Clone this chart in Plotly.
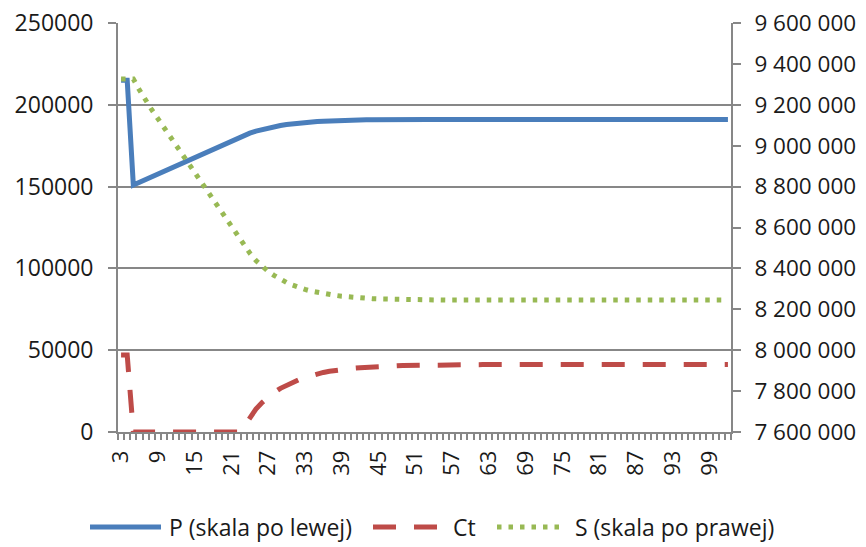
import plotly.graph_objects as go

# Periods on the category axis
periods = list(range(3, 103))
tick_values = [3, 9, 15, 21, 27, 33, 39, 45, 51, 57, 63, 69, 75, 81, 87, 93, 99]
tick_labels = ["3", "9", "15", "21", "27", "33", "39", "45", "51", "57",
               "63", "69", "75", "81", "87", "93", "99"]

# P (left scale)
p_values = [
    215000, 215000, 151000, 152700, 154400, 156100, 157800, 159500, 161200, 162900,
    164600, 166300, 168000, 169700, 171400, 173100, 174800, 176500, 178200, 179900,
    181400, 182700, 183900, 184900, 185800, 186600, 187300, 187900, 188400, 188800,
    189200, 189500, 189800, 190000, 190200, 190300, 190400, 190500, 190600, 190700,
    190800, 190800, 190900, 190900, 190900, 191000, 191000, 191000, 191000, 191000,
    191000, 191000, 191000, 191000, 191000, 191000, 191000, 191000, 191000, 191000,
    191000, 191000, 191000, 191000, 191000, 191000, 191000, 191000, 191000, 191000,
    191000, 191000, 191000, 191000, 191000, 191000, 191000, 191000, 191000, 191000,
    191000, 191000, 191000, 191000, 191000, 191000, 191000, 191000, 191000, 191000,
    191000, 191000, 191000, 191000, 191000, 191000, 191000, 191000, 191000, 191000,
]

# Ct (left scale)
ct_values = [
    47000, 47000, 0, 0, 0, 0, 0, 0, 0, 0,
    0, 0, 0, 0, 0, 0, 0, 0, 0, 0,
    3000, 8500, 14000, 18000, 21300, 24200, 26700, 28700, 30500, 32000,
    33300, 34500, 35500, 36400, 37100, 37700, 38200, 38600, 39000, 39300,
    39600, 39900, 40100, 40300, 40400, 40500, 40600, 40700, 40800, 40800,
    40900, 40900, 41000, 41000, 41000, 41100, 41100, 41100, 41200, 41200,
    41200, 41200, 41200, 41200, 41200, 41200, 41200, 41200, 41200, 41200,
    41200, 41200, 41200, 41200, 41200, 41200, 41200, 41200, 41200, 41200,
    41200, 41200, 41200, 41200, 41200, 41200, 41200, 41200, 41200, 41200,
    41200, 41200, 41200, 41200, 41200, 41200, 41200, 41200, 41200, 41200,
]

# S (right scale)
s_values = [
    9326000, 9326000, 9326000, 9272000, 9220500, 9176000, 9132500, 9088500, 9045000, 9000500,
    8956500, 8912500, 8869000, 8824500, 8780500, 8736500, 8693000, 8649000, 8604500, 8561000,
    8517000, 8475000, 8438500, 8409500, 8385000, 8365000, 8345500, 8331000, 8318000, 8306000,
    8297000, 8289000, 8282500, 8277500, 8272500, 8268000, 8264000, 8260500, 8258000, 8255500,
    8253500, 8252000, 8251000, 8250000, 8249000, 8248500, 8247500, 8247000, 8246500, 8246000,
    8246000, 8245500, 8245500, 8245000, 8245000, 8245000, 8245000, 8245000, 8245000, 8245000,
    8245000, 8245000, 8245000, 8245000, 8245000, 8245000, 8245000, 8245000, 8245000, 8245000,
    8245000, 8245000, 8245000, 8245000, 8245000, 8245000, 8245000, 8245000, 8245000, 8245000,
    8245000, 8245000, 8245000, 8245000, 8245000, 8245000, 8245000, 8245000, 8245000, 8245000,
    8245000, 8245000, 8245000, 8245000, 8245000, 8245000, 8245000, 8245000, 8245000, 8245000,
]

BLUE = "#4a7ebb"
RED = "#be4b48"
GREEN = "#98b954"
GRID = "#878787"
TEXT = "#1a1a1a"
FONT = "Open Sans"

CT_DASH = "23px,18px"
S_DASH = "4.5px,7px"

fig = go.Figure()
fig.add_trace(go.Scatter(x=periods, y=p_values, mode="lines", name="P (skala po lewej)",
                         line=dict(color=BLUE, width=5), yaxis="y"))
fig.add_trace(go.Scatter(x=periods, y=ct_values, mode="lines", name="Ct",
                         line=dict(color=RED, width=5, dash=CT_DASH), yaxis="y"))
fig.add_trace(go.Scatter(x=periods, y=s_values, mode="lines", name="S (skala po prawej)",
                         line=dict(color=GREEN, width=5, dash=S_DASH), yaxis="y2"))

# Legend row below the plot, drawn in paper coordinates
L, W, T, H = 118, 613, 23, 409


def px(xp):
    return (xp - L) / W


def py(yp):
    return (T + H - yp) / H


legend_y = py(527)
legend_items = [
    ("P (skala po lewej)", BLUE, "solid", 90, 161, 167),
    ("Ct", RED, CT_DASH, 373, 437, 451),
    ("S (skala po prawej)", GREEN, S_DASH, 497, 560, 573),
]
shapes = []
annotations = []
for label, color, dash, x0, x1, xt in legend_items:
    shapes.append(dict(type="line", xref="paper", yref="paper",
                       x0=px(x0), x1=px(x1), y0=legend_y, y1=legend_y,
                       line=dict(color=color, width=5, dash=dash)))
    annotations.append(dict(xref="paper", yref="paper", x=px(xt), y=legend_y,
                            text=label, showarrow=False, xanchor="left", yanchor="middle",
                            font=dict(family=FONT, size=23, color=TEXT)))

fig.update_layout(
    width=866, height=547,
    margin=dict(l=L, r=866 - L - W, t=T, b=547 - T - H),
    paper_bgcolor="white", plot_bgcolor="white",
    showlegend=False,
    separators=". ",
    font=dict(family=FONT, size=22, color=TEXT),
    xaxis=dict(
        range=[2.5, 102.5], showgrid=False, zeroline=False, automargin=False,
        showline=True, linecolor=GRID, linewidth=1.8,
        tickmode="array", tickvals=tick_values, ticktext=tick_labels,
        ticks="", tickangle=-90, ticklabelstandoff=8,
        tickfont=dict(size=22),
        minor=dict(ticks="outside", tick0=2.5, dtick=1, ticklen=6,
                   tickcolor=GRID, tickwidth=1.5, showgrid=False),
    ),
    yaxis=dict(
        range=[0, 250000], dtick=50000, tickformat="d", automargin=False,
        showgrid=True, gridcolor=GRID, gridwidth=1.8, zeroline=False,
        showline=True, linecolor=GRID, linewidth=1.8,
        ticks="outside", ticklen=8, tickcolor=GRID, tickwidth=1.8,
        ticklabelstandoff=10, tickfont=dict(size=23),
    ),
    yaxis2=dict(
        range=[7600000, 9600000], dtick=200000, tickformat=",d", automargin=False,
        overlaying="y", side="right", showgrid=False, zeroline=False,
        showline=True, linecolor=GRID, linewidth=1.8,
        ticks="outside", ticklen=8, tickcolor=GRID, tickwidth=1.8,
        ticklabelstandoff=9, tickfont=dict(size=22.5),
    ),
    shapes=shapes,
    annotations=annotations,
)

fig.write_html("out.html")
